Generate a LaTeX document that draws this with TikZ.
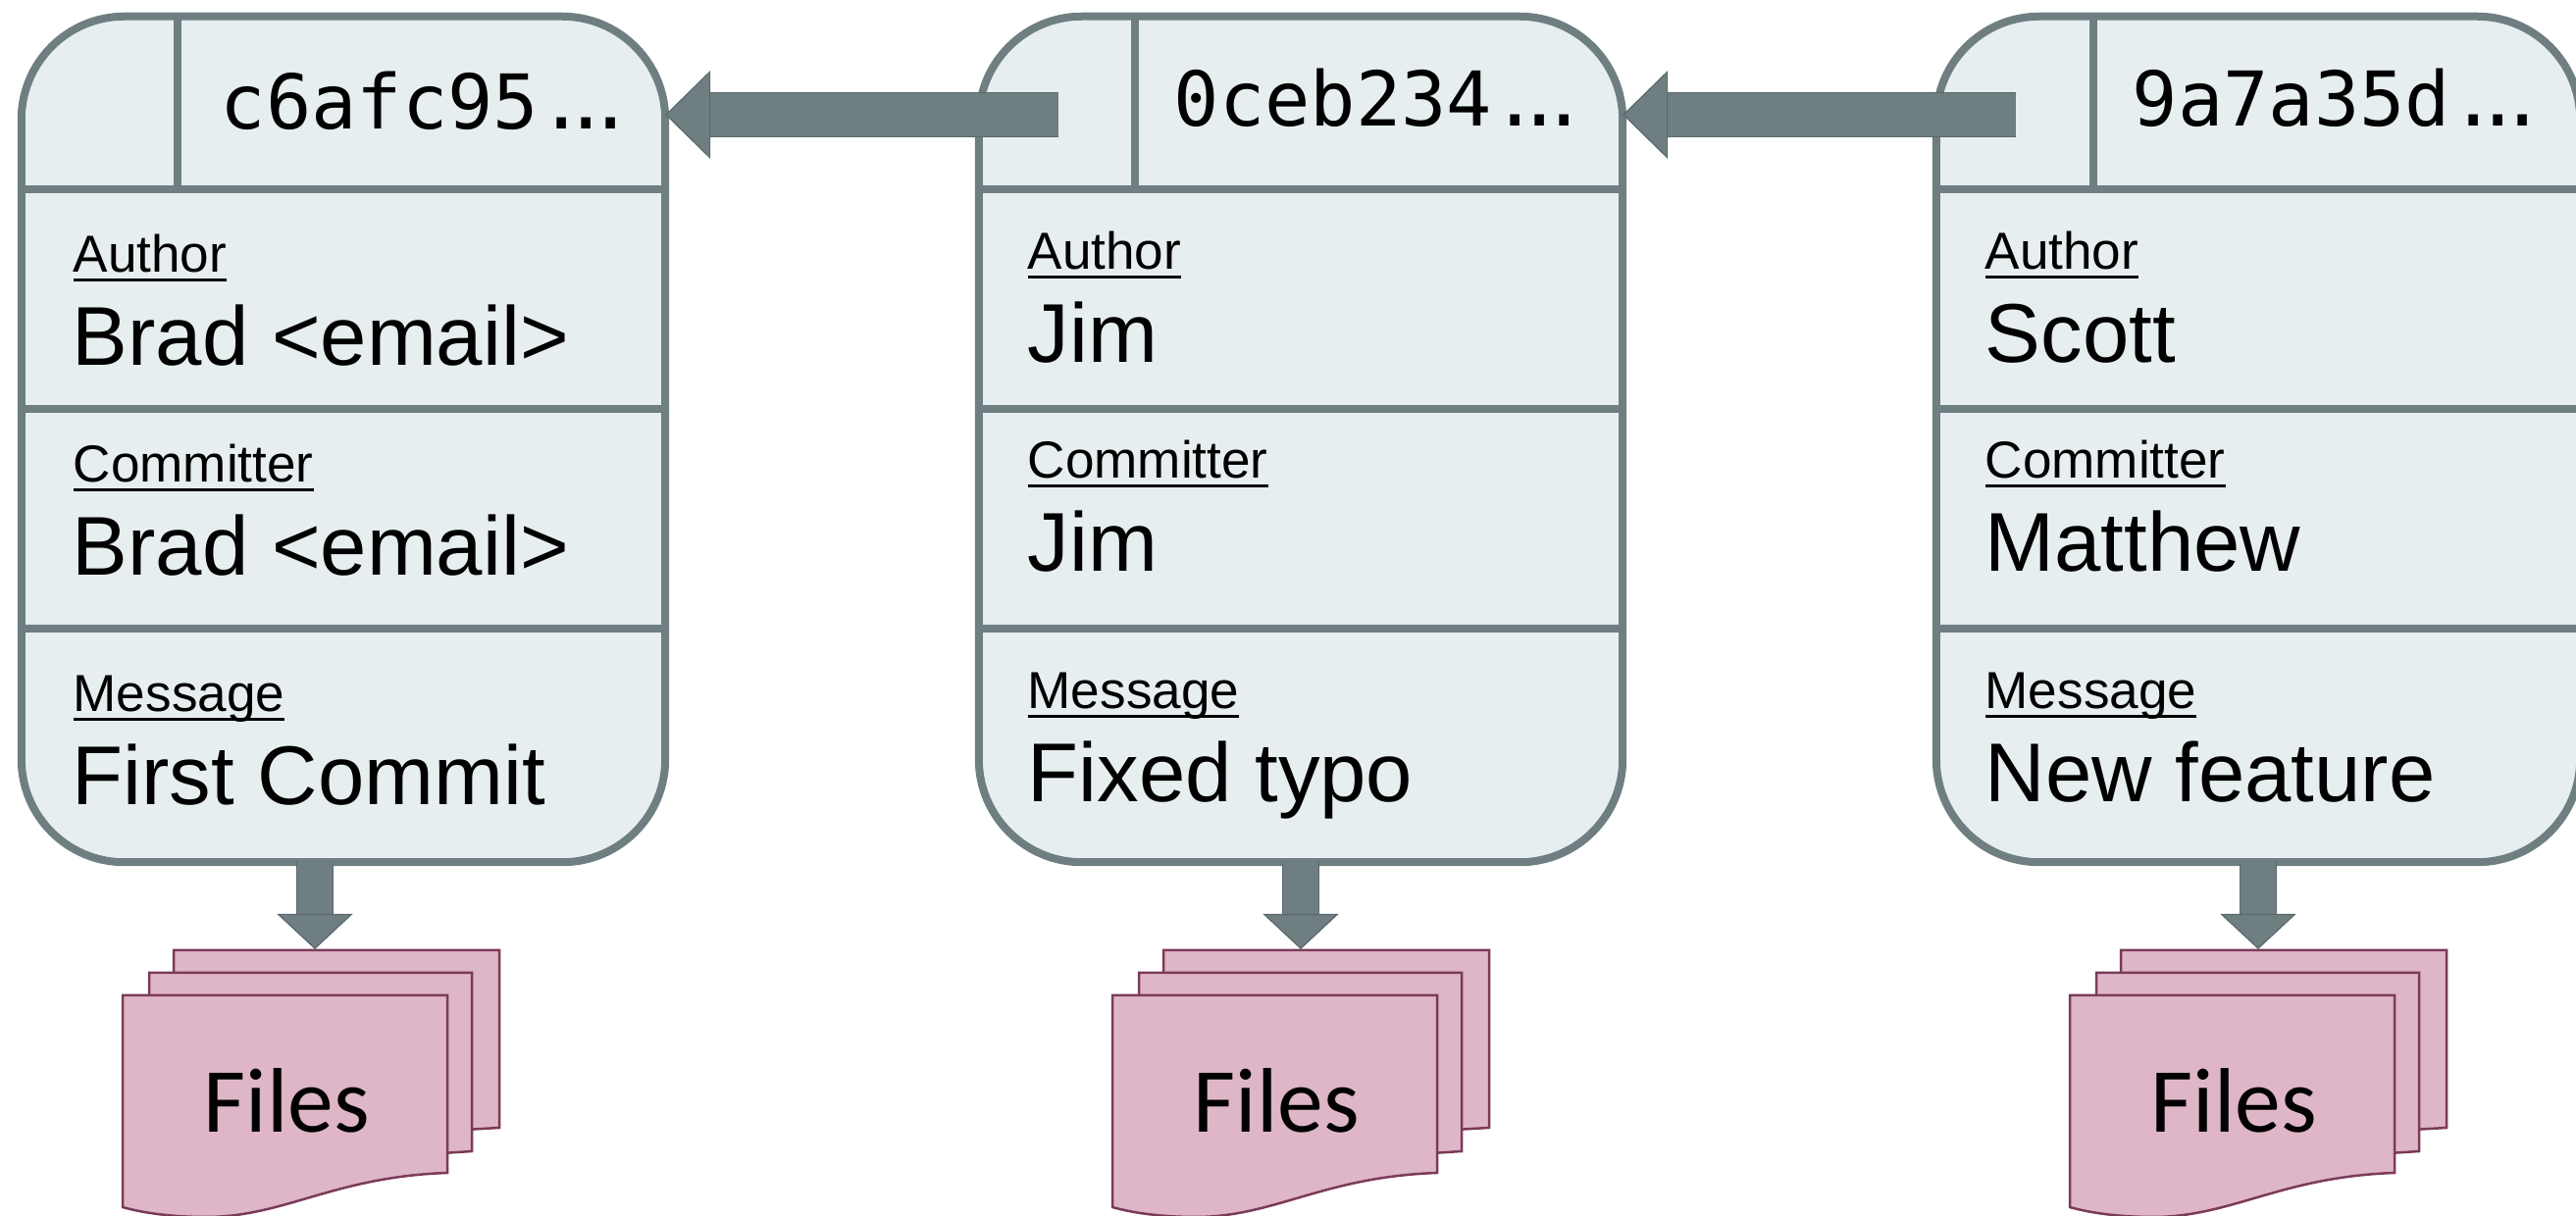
\documentclass[tikz,border=0pt]{standalone}
\usepackage{fontspec}
\setmainfont{Liberation Sans}
\newfontfamily\hashfont{DejaVu Sans Mono}
\newfontfamily\filesfont{Carlito}
\usetikzlibrary{arrows.meta}
\definecolor{boxfill}{HTML}{E6EEF0}
\definecolor{boxline}{HTML}{6F7F81}
\definecolor{arrowedge}{HTML}{5A6A6B}
\definecolor{filefill}{HTML}{DEB6C7}
\definecolor{fileline}{HTML}{7B3A58}
\newcommand{\fieldname}[1]{\setbox0=\hbox{#1}\rlap{\rule[-2.65pt]{\wd0}{1.05pt}}\box0}
\newcommand{\hashdots}{.\kern-6pt.\kern-6pt.}
\tikzset{
    commit_box/.style = {rectangle, draw=boxline, fill=boxfill, line width=0.08cm, rounded corners=1.05cm, minimum width=6.56cm, minimum height=8.62cm, inner sep=0pt, outer sep=0pt},
    rule/.style = {draw=boxline, line width=0.08cm},
    hash_text/.style = {anchor=base west, inner sep=0pt, font=\hashfont\fontsize{21.9}{24}\selectfont},
    field_text/.style = {anchor=base west, inner sep=0pt, font=\fontsize{15.1}{18}\selectfont},
    value_text/.style = {anchor=base west, inner sep=0pt, font=\fontsize{24.2}{28}\selectfont},
    parent_arrow/.style = {draw=arrowedge, double=boxline, double distance=0.43cm, line width=0.012cm, -{Triangle[length=0.46cm, width=0.9cm, color=arrowedge, fill=boxline]}},
    tree_arrow/.style = {draw=arrowedge, double=boxline, double distance=0.36cm, line width=0.012cm, -{Triangle[length=0.36cm, width=0.77cm, color=arrowedge, fill=boxline]}},
    sheet/.style = {draw=fileline, fill=filefill, line width=0.025cm},
    file_stack/.pic = {
        \path[sheet] (177,969) -- (509,969) -- (509,1150) -- (440,1154) -- (177,1154) -- cycle;
        \path[sheet] (152,992) -- (481,992) -- (481,1174) -- (420,1178) -- (152,1178) -- cycle;
        \path[sheet] (125,1015) -- (456,1015) -- (456,1196) .. controls (340,1200) and (290,1241) .. (210,1241) .. controls (180,1241) and (150,1238) .. (125,1231) -- cycle;
        \node[anchor=base, inner sep=0pt, font=\filesfont\fontsize{26.6}{30}\selectfont] (-label) at (292.5,1155) {Files};
    }
}
\begin{document}
\begin{tikzpicture}[x=0.01cm, y=-0.01cm]
    \clip (0,0) rectangle (2626,1240);
    % first commit
    \node[commit_box] (c1) at (350,448) {};
    \draw[rule] (22,193) -- (678,193);
    \draw[rule] (22,417) -- (678,417);
    \draw[rule] (22,641) -- (678,641);
    \draw[rule] (181,17) -- (181,193);
    \node[hash_text] (h1) at (224,132) {c6afc95\hashdots};
    \node[field_text] (a1) at (74,278) {\fieldname{Author}};
    \node[value_text] (an1) at (73,373) {Brad <email>};
    \node[field_text] (m1) at (74,492) {\fieldname{Committer}};
    \node[value_text] (mn1) at (73,587) {Brad <email>};
    \node[field_text] (s1) at (74,726) {\fieldname{Message}};
    \node[value_text] (st1) at (73,821) {First Commit};
    % second commit
    \node[commit_box] (c2) at (1326,448) {};
    \draw[rule] (998,193) -- (1654,193);
    \draw[rule] (998,417) -- (1654,417);
    \draw[rule] (998,641) -- (1654,641);
    \draw[rule] (1157,17) -- (1157,193);
    \node[hash_text] (h2) at (1196,129) {0ceb234\hashdots};
    \node[field_text] (a2) at (1047,275) {\fieldname{Author}};
    \node[value_text] (an2) at (1047,370) {Jim};
    \node[field_text] (m2) at (1047,488) {\fieldname{Committer}};
    \node[value_text] (mn2) at (1047,583) {Jim};
    \node[field_text] (s2) at (1047,723) {\fieldname{Message}};
    \node[value_text] (st2) at (1047,818) {Fixed typo};
    % third commit
    \node[commit_box] (c3) at (2302,448) {};
    \draw[rule] (1974,193) -- (2630,193);
    \draw[rule] (1974,417) -- (2630,417);
    \draw[rule] (1974,641) -- (2630,641);
    \draw[rule] (2134,17) -- (2134,193);
    \node[hash_text] (h3) at (2173,129) {9a7a35d\hashdots};
    \node[field_text] (a3) at (2023,275) {\fieldname{Author}};
    \node[value_text] (an3) at (2023,370) {Scott};
    \node[field_text] (m3) at (2023,488) {\fieldname{Committer}};
    \node[value_text] (mn3) at (2023,583) {Matthew};
    \node[field_text] (s3) at (2023,723) {\fieldname{Message}};
    \node[value_text] (st3) at (2023,818) {New feature};
    % files
    \pic (f1) at (0,0) {file_stack};
    \pic (f2) at (1009,0) {file_stack};
    \pic (f3) at (1985,0) {file_stack};
    % arrows
    \coordinate (t2) at (1079,117);
    \coordinate (t3) at (2055,117);
    \coordinate (d1) at (321,968);
    \coordinate (d2) at (1326,968);
    \coordinate (d3) at (2302,968);
    \draw[parent_arrow] (t2) -- (c1.east |- t2);
    \draw[parent_arrow] (t3) -- (c2.east |- t3);
    \draw[tree_arrow] (d1 |- c1.south) -- (d1);
    \draw[tree_arrow] (d2 |- c2.south) -- (d2);
    \draw[tree_arrow] (d3 |- c3.south) -- (d3);
\end{tikzpicture}
\end{document}
